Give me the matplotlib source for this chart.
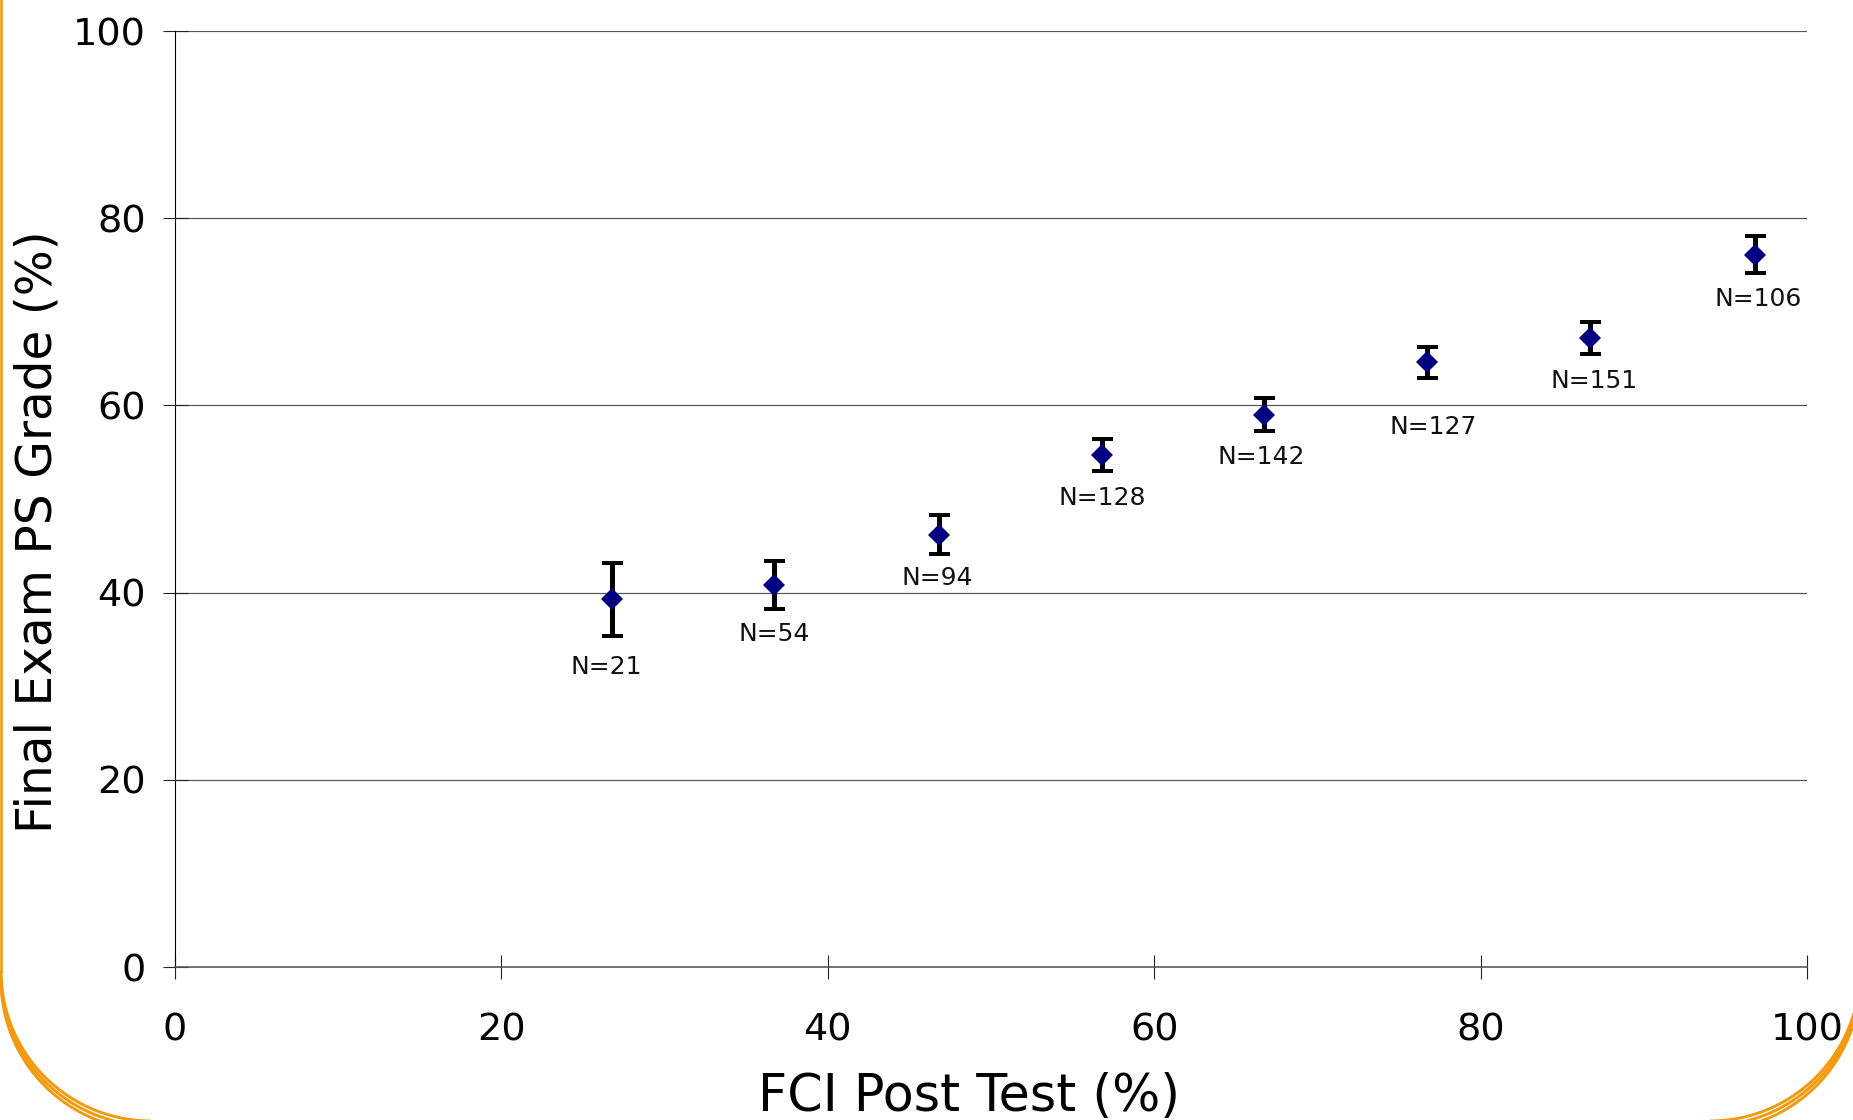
import numpy as np
import matplotlib
matplotlib.use("Agg")
import matplotlib.pyplot as plt

# FCI post-test bins vs. final exam problem-solving grade
fci_post = [26.8, 36.7, 46.8, 56.8, 66.7, 76.7, 86.7, 96.8]
exam_ps = [39.3, 40.8, 46.2, 54.7, 59.0, 64.6, 67.2, 76.1]
exam_err = [3.9, 2.6, 2.1, 1.75, 1.75, 1.65, 1.75, 1.95]
n_students = [21, 54, 94, 128, 142, 127, 151, 106]

x_ticks = [0, 20, 40, 60, 80, 100]
y_ticks = [0, 20, 40, 60, 80, 100]

W, H, DPI = 1853, 1120, 100
PX = 72.0 / DPI  # points per pixel

# label offsets (pixels) below the lower error-bar end
label_dx = [-6, 0, -2, 0, -2, 6, 4, 3]
label_drop = [31, 25, 24, 27, 26, 49, 27, 26]

ORANGE = "#F29A0E"
GRID = "#555555"


def corner_arcs(ax, cx, cy, side):
    t = np.linspace(0, np.pi / 2, 200)
    R = 150
    for k in range(3):
        c_y = cy - k * 4.5
        if side == "left":
            xs = cx - R * np.cos(t)
        else:
            xs = cx + R * np.cos(t)
        ys = c_y + R * np.sin(t)
        ax.plot(xs, ys, color=ORANGE, lw=2.9 * PX, solid_capstyle="butt")


def main() -> None:
    plt.rcParams.update({"font.family": ["DejaVu Sans"]})
    fig = plt.figure(figsize=(W / DPI, H / DPI), dpi=DPI)

    # decorative slide frame, drawn in pixel units
    deco = fig.add_axes([0, 0, 1, 1], zorder=0)
    deco.set_xlim(0, W)
    deco.set_ylim(H, 0)
    deco.axis("off")
    deco.plot([1.3, 1.3], [0, 972], color=ORANGE, lw=2.6 * PX)
    corner_arcs(deco, 151, 980, "left")
    corner_arcs(deco, 1710, 980, "right")

    ax = fig.add_axes([175 / W, 1 - 967 / H, (1807 - 175) / W, (967 - 31) / H], zorder=1)
    ax.patch.set_alpha(0)
    ax.set_xlim(0, 100)
    ax.set_ylim(0, 100)

    for yv in y_ticks[1:]:
        ax.axhline(yv, color=GRID, lw=1.2 * PX, zorder=1)

    ax.errorbar(fci_post, exam_ps, yerr=exam_err, fmt="none",
                ecolor="black", elinewidth=5.0 * PX,
                capsize=10.5 * PX, capthick=4.0 * PX, zorder=3)
    ax.plot(fci_post, exam_ps, "D", color="#000080", ms=11.5, mew=0, zorder=4)

    for x, y, e, n, dx, dy in zip(fci_post, exam_ps, exam_err, n_students, label_dx, label_drop):
        ax.annotate(f"N={n}", (x, y - e), xytext=(dx, -dy), textcoords="offset pixels",
                    ha="center", va="center", fontsize=18, color="#111111")

    for s in ["top", "right"]:
        ax.spines[s].set_visible(False)
    ax.spines["left"].set_color("black")
    ax.spines["left"].set_linewidth(1.1 * PX)
    ax.spines["bottom"].set_color(GRID)
    ax.spines["bottom"].set_linewidth(1.6 * PX)

    ax.set_xticks(x_ticks)
    ax.set_yticks(y_ticks)
    ax.tick_params(axis="both", direction="inout", color="#222222", width=1.1 * PX,
                   labelsize=27.5)
    ax.tick_params(axis="x", length=24 * PX, pad=24)
    ax.tick_params(axis="y", length=25 * PX, pad=12)

    fig.text(38 / W, 1 - 532 / H, "Final Exam PS Grade (%)", rotation=90,
             ha="center", va="center", fontsize=35)
    fig.text(969 / W, 1 - 1111 / H, "FCI Post Test (%)", ha="center", va="baseline",
             fontsize=36.5)

    fig.savefig("out.png", dpi=DPI)
    plt.close(fig)


if __name__ == "__main__":
    main()
